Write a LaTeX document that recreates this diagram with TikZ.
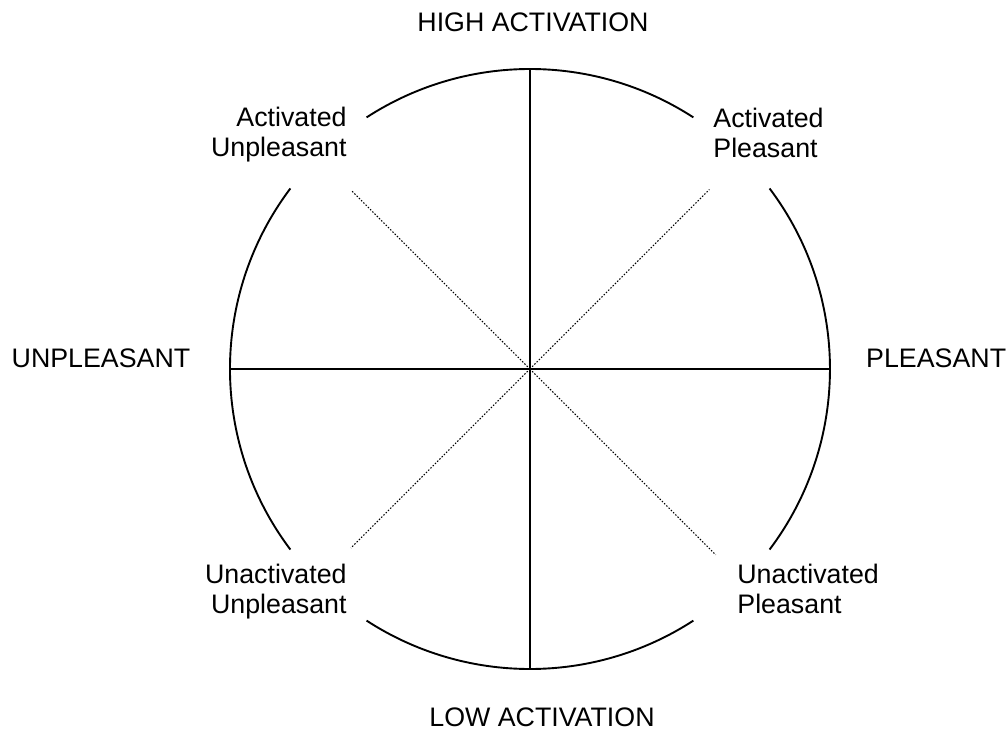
\documentclass[tikz,border=0pt]{standalone}
\usepackage{fontspec}
\setmainfont{Liberation Sans}
\tikzstyle{axislabel}=[inner sep=0pt,font=\fontsize{12.7}{14.2}\selectfont]
\tikzstyle{quadlabel}=[inner sep=0pt,font=\fontsize{12.7}{14.2}\selectfont]
\tikzstyle{rim}=[line width=0.9pt]
\tikzstyle{axis}=[line width=0.7pt]
\tikzstyle{diag}=[line width=0.5pt,dash pattern=on 0.7pt off 0.8pt]

\begin{document}
\begin{tikzpicture}
\useasboundingbox (-8.833,-6.067) rectangle (7.967,6.15);
\coordinate (o) at (0, 0);
\coordinate (n) at (90:5);
\coordinate (s) at (270:5);
\coordinate (w) at (180:5);
\coordinate (e) at (0:5);
\coordinate (ne) at (45:4.23);
\coordinate (nw) at (135:4.2);
\coordinate (sw) at (225:4.22);
\coordinate (se) at (315:4.38);
\draw[rim] (-37:5) arc[start angle=-37, end angle=37, radius=5];
\draw[rim] (57:5) arc[start angle=57, end angle=123, radius=5];
\draw[rim] (143:5) arc[start angle=143, end angle=217, radius=5];
\draw[rim] (237:5) arc[start angle=237, end angle=303, radius=5];
\draw[axis] (w) -- (e);
\draw[axis] (n) -- (s);
\draw[diag] (o) -- (ne);
\draw[diag] (o) -- (nw);
\draw[diag] (o) -- (sw);
\draw[diag] (o) -- (se);
\node[axislabel, anchor=base] at (0.05, 5.633) (high) {HIGH ACTIVATION};
\node[axislabel, anchor=base] at (0.2, -5.95) (low) {LOW ACTIVATION};
\node[axislabel, anchor=base] at (-7.15, 0.033) (unpl) {UNPLEASANT};
\node[axislabel, anchor=base] at (6.77, 0.033) (pl) {PLEASANT};
\node[quadlabel, anchor=north east, align=right] at (-3.05, 4.37) (actunpl) {Activated\\Unpleasant};
\node[quadlabel, anchor=north west, align=left] at (3.05, 4.35) (actpl) {Activated\\Pleasant};
\node[quadlabel, anchor=north east, align=right] at (-3.05, -3.25) (unactunpl) {Unactivated\\Unpleasant};
\node[quadlabel, anchor=north west, align=left] at (3.45, -3.25) (unactpl) {Unactivated\\Pleasant};
\end{tikzpicture}
\end{document}
